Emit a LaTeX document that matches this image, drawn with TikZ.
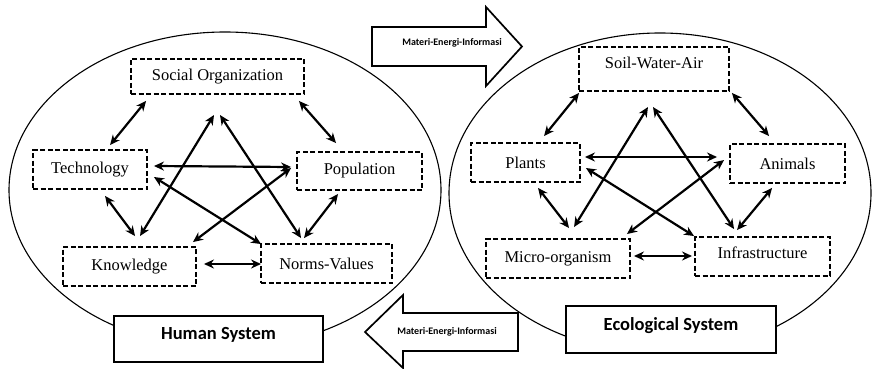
\documentclass[tikz,border=0pt]{standalone}
\usepackage{fontspec}
\setmainfont{Liberation Serif}
\newfontfamily\labelfont{Carlito}
\usetikzlibrary{arrows.meta}

\begin{document}
\begin{tikzpicture}[x=1pt,y=-1pt,
  part/.style={draw, dash pattern=on 5pt off 2.5pt, line width=1.9pt,
    inner sep=0pt, minimum height=39pt, font=\fontsize{16.5}{18}\selectfont},
  sysbox/.style={draw, fill=white, line width=1.4pt, inner sep=0pt,
    font=\labelfont\bfseries\fontsize{18.5}{20}\selectfont},
  link/.style={line width=2.2pt,
    {Stealth[length=10pt,width=9pt]}-{Stealth[length=10pt,width=9pt]}},
  flow/.style={draw, fill=white, line width=1.7pt, line join=miter},
  flowtext/.style={font=\labelfont\bfseries\fontsize{10}{11}\selectfont}]
  \useasboundingbox (0,0) rectangle (873,369);

  % the two systems
  \draw[line width=1.1pt] (225,190) ellipse [x radius=216pt, y radius=158pt];
  \draw[line width=1.1pt] (660,193) ellipse [x radius=211pt, y radius=160pt];

  % human system
  \node[part, minimum width=173pt, minimum height=35pt] (socorg) at (217.5,76.5) {Social Organization};
  \node[part, minimum width=114pt] (tech) at (90,169.5) {Technology};
  \node[part, minimum width=125pt, minimum height=38pt] (pop) at (359.5,171) {Population};
  \node[part, minimum width=133pt] (know) at (129.5,266.5) {Knowledge};
  \node[part, minimum width=131pt] (norms) at (326.5,263.5) {Norms-Values};
  \coordinate (hapex) at (217,115);

  \draw[link] ([shift={(16,6)}]socorg.south west) -- ([shift={(78,-4)}]tech.north west);
  \draw[link] ([shift={(-6,6)}]socorg.south east) -- ([shift={(40,-8)}]pop.north west);
  \draw[link] ([shift={(6,-3.5)}]tech.east) -- ([shift={(-5,-4)}]pop.west);
  \draw[link] ([shift={(73,6)}]tech.south west) -- ([shift={(73,-10)}]know.north west);
  \draw[link] ([shift={(42,3)}]pop.south west) -- ([shift={(44,-5)}]norms.north west);
  \draw[link] ([shift={(7,-2.5)}]know.east) -- ([shift={(1,0.5)}]norms.west);
  \draw[link] ([shift={(78,-10)}]know.north west) -- ([shift={(-3,0)}]hapex);
  \draw[link] ([shift={(41,-5)}]norms.north west) -- ([shift={(3,0)}]hapex);
  \draw[link] ([shift={(6,7.5)}]tech.east) -- ([shift={(1,1)}]norms.north west);
  \draw[link] ([shift={(-5,-3)}]pop.west) -- ([shift={(-4,-4)}]know.north east);

  % ecological system
  \node[part, minimum width=150pt, minimum height=44pt, text height=9pt, text depth=10pt] (swa) at (654,69) {Soil-Water-Air};
  \node[part, minimum width=109pt] (plants) at (525.5,162.5) {Plants};
  \node[part, minimum width=115pt] (animals) at (787.5,163.5) {Animals};
  \node[part, minimum width=144pt] (micro) at (558,258.5) {Micro-organism};
  \node[part, minimum width=135pt, text height=10pt, text depth=7pt] (infra) at (762.5,256.5) {Infrastructure};
  \coordinate (eapex) at (650.5,107);

  \draw[link] ([shift={(1,1)}]swa.south west) -- ([shift={(74,-6)}]plants.north west);
  \draw[link] ([shift={(2,1)}]swa.south east) -- ([shift={(40,-7)}]animals.north west);
  \draw[link] ([shift={(4,-5.5)}]plants.east) -- ([shift={(-12,-6.5)}]animals.west);
  \draw[link] ([shift={(68,5)}]plants.south west) -- ([shift={(84,-10)}]micro.north west);
  \draw[link] ([shift={(43,4)}]animals.south west) -- ([shift={(43,-6)}]infra.north west);
  \draw[link] ([shift={(3,-2.5)}]micro.east) -- ([shift={(-2,-0.5)}]infra.west);
  \draw[link] ([shift={(89,-11)}]micro.north west) -- ([shift={(-2.5,0)}]eapex);
  \draw[link] ([shift={(40,-7)}]infra.north west) -- ([shift={(2.5,0)}]eapex);
  \draw[link] ([shift={(5,5.5)}]plants.east) -- (infra.north west);
  \draw[link] ([shift={(-5,-3.5)}]animals.west) -- ([shift={(-4,-4)}]micro.north east);

  % system labels
  \node[sysbox, minimum width=209pt, minimum height=46pt, text height=10pt, text depth=10pt] (human) at (218.5,339) {Human System};
  \node[sysbox, minimum width=210pt, minimum height=47pt, text height=11pt, text depth=8.5pt] (eco) at (671,329.5) {Ecological System};

  % exchange between the systems
  \draw[flow] (372,27) -- (486,27) -- (486,7) -- (522,46.5) -- (486,86) -- (486,66) -- (372,66) -- cycle;
  \node[flowtext] (toeco) at (452,43) {Materi-Energi-Informasi};
  \draw[flow] (518,313) -- (403,313) -- (403,295) -- (365,332) -- (403,368) -- (403,351) -- (518,351) -- cycle;
  \node[flowtext] (tohuman) at (447,332) {Materi-Energi-Informasi};
\end{tikzpicture}
\end{document}
